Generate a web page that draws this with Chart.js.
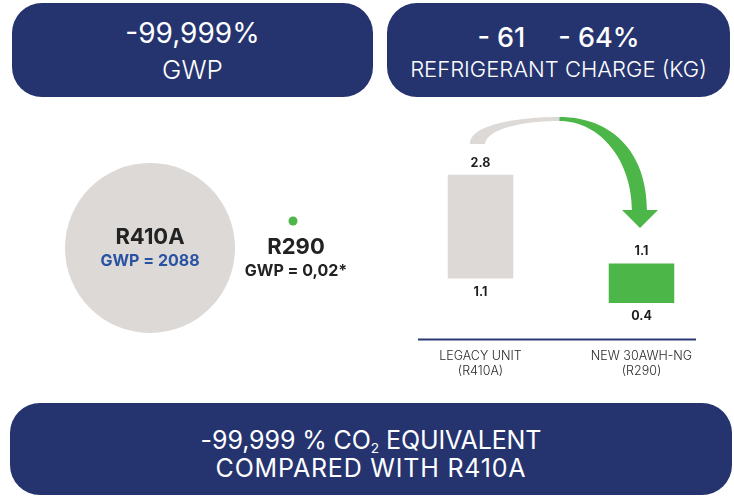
<!DOCTYPE html>
<html>
<head>
<meta charset="utf-8">
<script src="https://cdn.jsdelivr.net/npm/chart.js@4.4.1/dist/chart.umd.min.js"></script>
<style>
  html, body { margin: 0; padding: 0; background: #fff; }
  body { width: 734px; height: 497px; position: relative; overflow: hidden; font-family: Inter, "Noto Sans", sans-serif; }
  .banner { position: absolute; background: #25346f; color: #fff; border-radius: 30px; }
  .banner .line { position: absolute; left: 0; right: 0; text-align: center; height: 30px; line-height: 30px; white-space: pre; }
  canvas { position: absolute; }
  sub { font-size: 0.55em; vertical-align: -0.3em; line-height: 0; }
</style>
</head>
<body>

<div class="banner" style="left:12px; top:3px; width:361px; height:94px;">
  <div class="line" style="top:15px; font-size:28px; font-weight:400;">-99,999%</div>
  <div class="line" style="top:51.5px; font-size:26px; font-weight:300;">GWP</div>
</div>

<div class="banner" style="left:387px; top:3px; width:343px; height:94px;">
  <div class="line" style="top:19.5px; font-size:27px; font-weight:500;">- 61<span style="display:inline-block; width:33px;"></span>- 64%</div>
  <div class="line" style="top:50.7px; font-size:22px; font-weight:300;">REFRIGERANT CHARGE (KG)</div>
</div>

<canvas id="gwpChart" width="400" height="300" style="left:0; top:100px;"></canvas>
<canvas id="chargeChart" width="334" height="290" style="left:400px; top:100px;"></canvas>

<div class="banner" style="left:10px; top:403px; width:722px; height:92px;">
  <div class="line" style="top:22px; font-size:25px; font-weight:400; letter-spacing:-0.1px;">-99,999 % CO<sub>2</sub> EQUIVALENT</div>
  <div class="line" style="top:50px; font-size:25px; font-weight:400; letter-spacing:0.8px;">COMPARED WITH R410A</div>
</div>

<script>
// GWP of each refrigerant
const refrigerants = ['R410A', 'R290'];
const gwpValues = [2088, 0.02];
const gwpNote = ['', '*'];
const bubbleRadius = [85, 4.5];

// refrigerant charge (kg), legacy unit vs new unit
const units = [['LEGACY UNIT', '(R410A)'], ['NEW 30AWH-NG', '(R290)']];
const chargeHigh = [2.8, 1.1];
const chargeLow = [1.1, 0.4];

const GREY = '#dcd9d6';
const GREEN = '#4cb648';
const NAVY = '#2c3a78';

// layout only: vertical row of each marker, and where its text sits
const bubbleRow = [0, 1];
const labelShift = [[0, -11, 13], [3, 26, 50]];

const gwpText = {
  id: 'gwpText',
  afterDatasetsDraw(chart) {
    const ctx = chart.ctx;
    const meta = chart.getDatasetMeta(0);
    ctx.save();
    ctx.textAlign = 'center';
    ctx.textBaseline = 'middle';
    meta.data.forEach((el, i) => {
      const s = labelShift[i];
      ctx.fillStyle = '#222';
      ctx.font = '700 22px Inter';
      ctx.fillText(refrigerants[i], el.x + s[0], el.y + s[1]);
      ctx.fillStyle = i === 0 ? '#2a52a3' : '#222';
      ctx.font = '700 16px Inter';
      const txt = 'GWP = ' + String(gwpValues[i]).replace('.', ',') + gwpNote[i];
      ctx.fillText(txt, el.x + s[0], el.y + s[2]);
    });
    ctx.restore();
  }
};

new Chart(document.getElementById('gwpChart'), {
  type: 'bubble',
  data: {
    datasets: [{
      data: refrigerants.map((r, i) => ({ x: i, y: bubbleRow[i], r: bubbleRadius[i] })),
      backgroundColor: [GREY, GREEN],
      borderWidth: 0,
      hoverBorderWidth: 0,
      clip: false
    }]
  },
  options: {
    responsive: false,
    devicePixelRatio: 1,
    animation: false,
    events: [],
    layout: { padding: 0, autoPadding: false },
    plugins: { legend: { display: false }, tooltip: { enabled: false } },
    scales: {
      x: { display: false, min: -1.049, max: 1.748 },
      y: { display: false, min: -5.63, max: 5.48 }
    }
  },
  plugins: [gwpText]
});

// curved arrow from the legacy bar to the new bar
const chargeArrow = {
  id: 'chargeArrow',
  afterDatasetsDraw(chart) {
    const ctx = chart.ctx;
    const a = chart.getDatasetMeta(0).data[0].x;
    const b = chart.getDatasetMeta(1).data[1].x;
    const m = (a + b) / 2;
    ctx.save();
    ctx.fillStyle = GREY;
    ctx.beginPath();
    ctx.moveTo(a - 10.5, 44);
    ctx.bezierCurveTo(a - 10.5, 24, m - 41, 17, m - 1, 17);
    ctx.lineTo(m - 1, 21);
    ctx.bezierCurveTo(m - 36, 21, a + 6.5, 28, a + 4.5, 44);
    ctx.closePath();
    ctx.fill();

    ctx.fillStyle = GREEN;
    ctx.beginPath();
    ctx.moveTo(m - 1.5, 17);
    ctx.bezierCurveTo(m + 49, 17, b + 5.5, 50, b + 5.5, 111);
    ctx.lineTo(b - 9.5, 111);
    ctx.bezierCurveTo(b - 9.5, 60, m + 39, 21, m - 1.5, 21);
    ctx.closePath();
    ctx.fill();

    ctx.beginPath();
    ctx.moveTo(b - 19.5, 110);
    ctx.lineTo(b + 16.5, 110);
    ctx.lineTo(b - 1.5, 128);
    ctx.closePath();
    ctx.fill();
    ctx.restore();
  }
};

const chargeLabels = {
  id: 'chargeLabels',
  afterDatasetsDraw(chart) {
    const ctx = chart.ctx;
    const area = chart.chartArea;
    ctx.save();
    // base line under the bars
    ctx.strokeStyle = NAVY;
    ctx.lineWidth = 2;
    ctx.beginPath();
    ctx.moveTo(area.left + 18, area.bottom);
    ctx.lineTo(area.right - 26, area.bottom);
    ctx.stroke();

    ctx.fillStyle = '#1f1f1f';
    ctx.font = '700 12.5px Inter';
    ctx.textAlign = 'center';
    ctx.textBaseline = 'middle';
    chart.data.datasets.forEach((ds, d) => {
      chart.getDatasetMeta(d).data.forEach((el, i) => {
        if (!ds.data[i]) return;
        ctx.fillText(String(chargeHigh[i]), el.x, el.y - 12);
        ctx.fillText(String(chargeLow[i]), el.x, el.base + 13.5);
      });
    });
    ctx.restore();
  }
};

new Chart(document.getElementById('chargeChart'), {
  type: 'bar',
  data: {
    labels: units,
    datasets: [
      {
        data: [[chargeLow[0], chargeHigh[0]], null],
        backgroundColor: GREY,
        yAxisID: 'y',
        grouped: false,
        barPercentage: 0.407,
        categoryPercentage: 1
      },
      {
        data: [null, [chargeLow[1], chargeHigh[1]]],
        backgroundColor: GREEN,
        yAxisID: 'y2',
        grouped: false,
        barPercentage: 0.407,
        categoryPercentage: 1
      }
    ]
  },
  options: {
    responsive: false,
    devicePixelRatio: 1,
    animation: false,
    events: [],
    layout: { padding: { top: 28, right: 12, bottom: 1.5, left: 0 } },
    plugins: { legend: { display: false }, tooltip: { enabled: false } },
    scales: {
      x: {
        grid: { display: false, drawTicks: false },
        border: { display: false },
        ticks: {
          color: '#2a2a2a',
          padding: 9.5,
          font: { family: 'Inter', size: 12.5, weight: 300, lineHeight: 1.2 }
        }
      },
      y: { display: false, min: 0.0987, max: 3.569 },
      y2: { display: false, min: -0.2487, max: 3.499 }
    }
  },
  plugins: [chargeArrow, chargeLabels]
});
</script>
</body>
</html>
